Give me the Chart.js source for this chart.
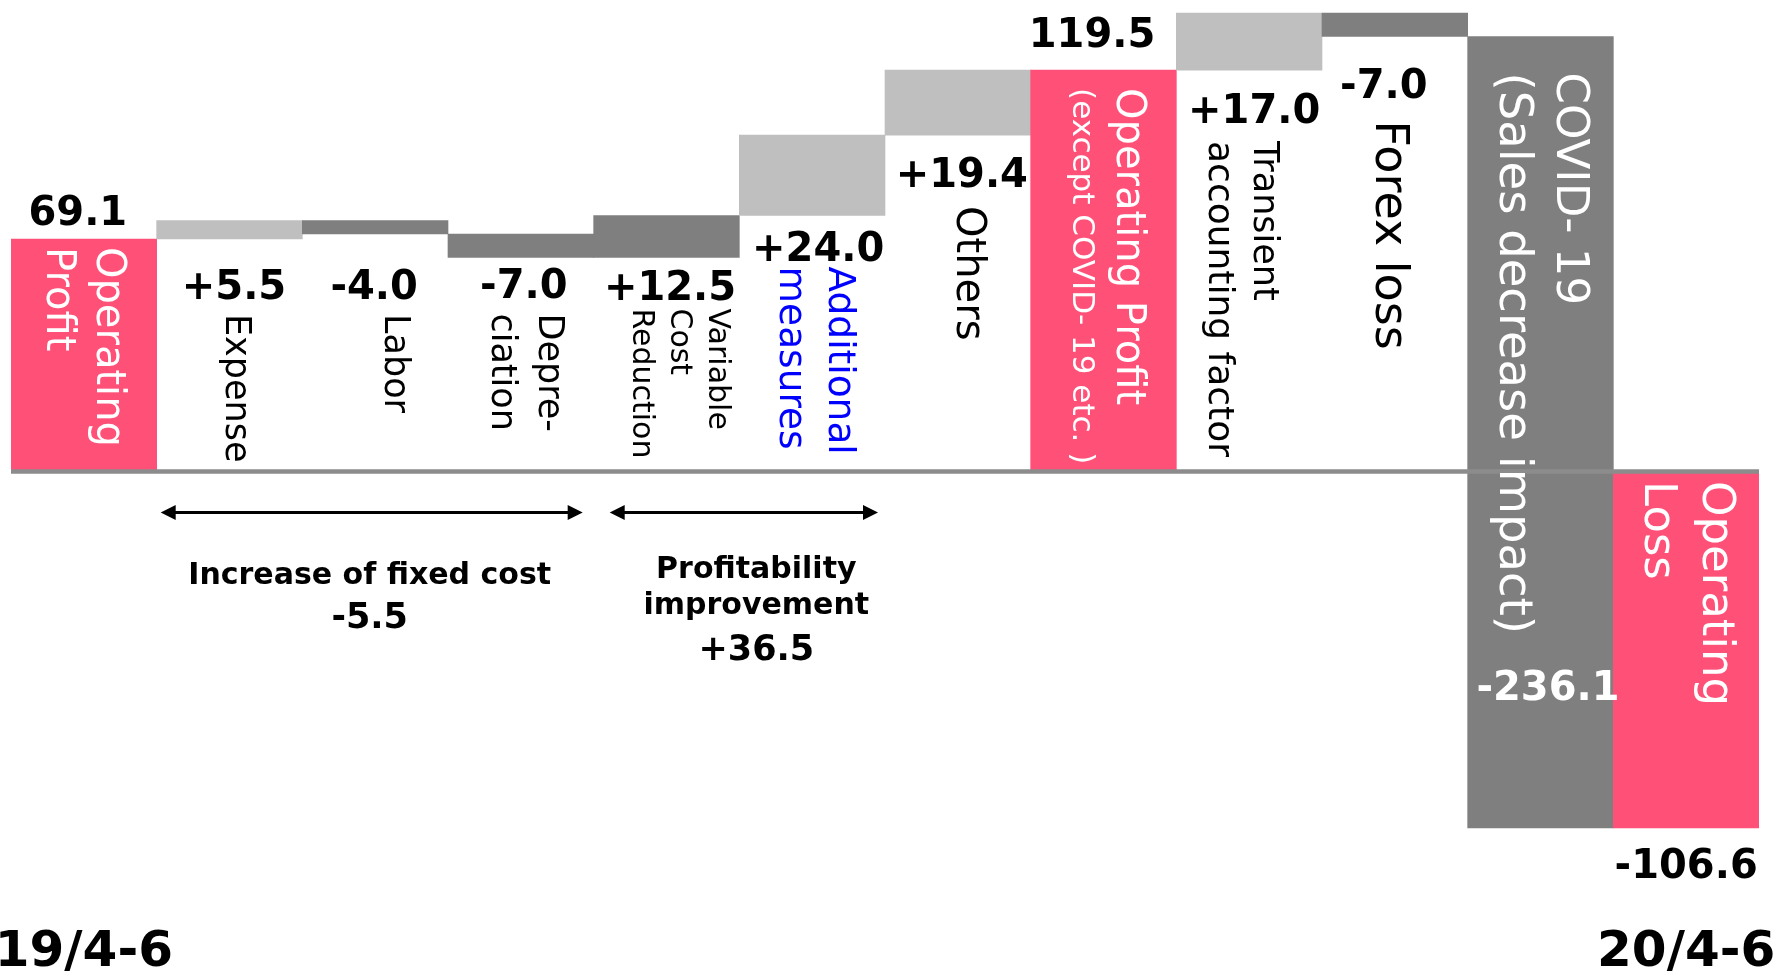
<!DOCTYPE html>
<html>
<head>
<meta charset="utf-8">
<script src="https://cdn.jsdelivr.net/npm/chart.js@4/dist/chart.umd.min.js"></script>
<style>
	html, body { margin: 0; padding: 0; background: #fff; }
	canvas { display: block; }
</style>
</head>
<body>
<canvas id="bridge" width="1783" height="974"></canvas>
<script>
// --- data ---
const categories = ["Operating Profit", "Expense", "Labor", "Depreciation", "Variable Cost Reduction",
	"Additional measures", "Others", "Operating Profit (except COVID-19 etc.)", "Transient accounting factor",
	"Forex loss", "COVID-19 (Sales decrease impact)", "Operating Loss"];
const deltas = [69.1, 5.5, -4.0, -7.0, 12.5, 24.0, 19.4, 119.5, 17.0, -7.0, -236.1, -106.6];
const isTotal = [true, false, false, false, false, false, false, true, false, false, false, true];
const periodLabels = ["19/4-6", "", "", "", "", "", "", "", "", "", "", "20/4-6"];
const nameLines = [
	["Operating", "Profit"],
	["Expense"],
	["Labor"],
	["Depre-", "ciation"],
	["Variable", "Cost", "Reduction"],
	["Additional", "measures"],
	["Others"],
	["Operating Profit", "(except COVID- 19 etc. )"],
	["Transient", "accounting factor"],
	["Forex loss"],
	["COVID- 19", "(Sales decrease impact)"],
	["Operating", "Loss"]
];
const groupNames = [["Increase of fixed cost"], ["Profitability", "improvement"]];
const groupTotals = [-5.5, 36.5];
const groupSpans = [[1, 3], [4, 5]];

// --- styles ---
const FONT = '"DejaVu Sans"';
const PINK = '#FF5078', LIGHT = '#BFBFBF', DARK = '#7F7F7F';
const barColors = [PINK, LIGHT, DARK, DARK, DARK, LIGHT, LIGHT, PINK, LIGHT, DARK, DARK, PINK];

// value label: [dx, anchor, dy, color]
const valuePos = [
	[-6, 'top', -14], [4.5, 'bottom', 60], [-1, 'bottom', 65], [3, 'bottom', 41],
	[3.5, 'bottom', 43], [6, 'bottom', 45], [4, 'bottom', 52], [-11.5, 'top', -23],
	[5, 'bottom', 53], [-11, 'bottom', 61], [7.5, 'bottom', -128, '#fff'], [0, 'bottom', 50]
];
// rotated name labels
const nameStyle = [
	{from: 'top', gap: 8, dx: 13, size: [40, 40], lh: 50, color: '#fff'},
	{from: 'value', gap: 15, dx: -4, size: [35], lh: 0, color: '#000'},
	{from: 'value', gap: 15, dx: 9.5, size: [35], lh: 0, color: '#000'},
	{from: 'value', gap: 15, dx: 18.5, size: [35, 35], lh: 47, color: '#000'},
	{from: 'value', gap: 8, dx: 42, size: [30, 30, 30], lh: 38, color: '#000'},
	{from: 'value', gap: 6, dx: 16.5, size: [37.5, 37.5], lh: 48.5, color: '#0000FF'},
	{from: 'value', gap: 19, dx: -0.5, size: [40], lh: 0, color: '#000'},
	{from: 'top', gap: 18, dx: 13.5, size: [40, 31], lh: 44, color: '#fff'},
	{from: 'value', gap: 18, dx: 5, size: [35, 36], lh: 45, color: '#000'},
	{from: 'value', gap: 23, dx: -19, size: [46], lh: 0, color: '#000'},
	{from: 'top', gap: 36, dx: 16, size: [45, 46.5], lh: 57, color: '#fff'},
	{from: 'top', gap: 10.5, dx: 17, size: [45, 45], lh: 58, color: '#fff'}
];
const groupStyle = [
	{insetL: 4, insetR: 11, textDx: -2, lineY: [113.5], totalY: 157},
	{insetL: 16, insetR: 7, textDx: 12.5, lineY: [107, 143], totalY: 189}
];

// floating bars for the waterfall
let running = 0;
const floating = deltas.map((d, i) => {
	if (isTotal[i]) { running = d; return [0, d]; }
	const from = running;
	running += d;
	return [from, running];
});

function valueText(i) {
	const v = deltas[i];
	const s = Math.abs(v).toFixed(1);
	if (v < 0) return '-' + s;
	return isTotal[i] ? s : '+' + s;
}

function drawArrow(ctx, x1, x2, y) {
	const head = 15, half = 7.5;
	ctx.strokeStyle = '#000';
	ctx.lineWidth = 3;
	ctx.beginPath();
	ctx.moveTo(x1 + head - 2, y);
	ctx.lineTo(x2 - head + 2, y);
	ctx.stroke();
	ctx.fillStyle = '#000';
	ctx.beginPath();
	ctx.moveTo(x1, y); ctx.lineTo(x1 + head, y - half); ctx.lineTo(x1 + head, y + half); ctx.closePath();
	ctx.fill();
	ctx.beginPath();
	ctx.moveTo(x2, y); ctx.lineTo(x2 - head, y - half); ctx.lineTo(x2 - head, y + half); ctx.closePath();
	ctx.fill();
}

const annotate = {
	id: 'annotate',
	afterDatasetsDraw(chart) {
		const {ctx, chartArea, scales: {y}} = chart;
		const bars = chart.getDatasetMeta(0).data;
		const zero = y.getPixelForValue(0);
		ctx.save();

		// zero line over the bars
		ctx.strokeStyle = '#8C8C8C';
		ctx.lineWidth = 4.5;
		ctx.beginPath();
		ctx.moveTo(chartArea.left, zero + 1);
		ctx.lineTo(chartArea.right, zero + 1);
		ctx.stroke();

		bars.forEach((bar, i) => {
			const top = Math.min(bar.y, bar.base);
			const bottom = Math.max(bar.y, bar.base);
			const vp = valuePos[i];
			const vy = (vp[1] === 'top' ? top : bottom) + vp[2];
			ctx.font = 'bold 40px ' + FONT;
			ctx.fillStyle = vp[3] || '#000';
			ctx.textAlign = 'center';
			ctx.textBaseline = 'alphabetic';
			ctx.fillText(valueText(i), bar.x + vp[0], vy);

			const ns = nameStyle[i];
			const start = (ns.from === 'top' ? top : vy) + ns.gap;
			ctx.save();
			ctx.translate(bar.x + ns.dx, start);
			ctx.rotate(Math.PI / 2);
			ctx.textAlign = 'left';
			ctx.fillStyle = ns.color;
			nameLines[i].forEach((line, k) => {
				ctx.font = ns.size[k] + 'px ' + FONT;
				ctx.fillText(line, 0, k * ns.lh);
			});
			ctx.restore();
		});

		// group brackets below the axis
		groupSpans.forEach((span, g) => {
			const gs = groupStyle[g];
			const a = bars[span[0]], b = bars[span[1]];
			const x1 = a.x - a.width / 2 + gs.insetL;
			const x2 = b.x + b.width / 2 - gs.insetR;
			drawArrow(ctx, x1, x2, zero + 42);
			const cx = (x1 + x2) / 2 + gs.textDx;
			ctx.fillStyle = '#000';
			ctx.textAlign = 'center';
			ctx.font = 'bold 30px ' + FONT;
			groupNames[g].forEach((line, k) => ctx.fillText(line, cx, zero + gs.lineY[k]));
			ctx.font = 'bold 35px ' + FONT;
			const t = groupTotals[g];
			ctx.fillText((t > 0 ? '+' : '') + t.toFixed(1), cx, zero + gs.totalY);
		});
		ctx.restore();
	}
};

new Chart(document.getElementById('bridge'), {
	type: 'bar',
	data: {
		labels: categories,
		datasets: [{
			data: floating,
			backgroundColor: barColors,
			borderWidth: 0,
			barPercentage: 1,
			categoryPercentage: 1
		}]
	},
	options: {
		responsive: false,
		animation: false,
		devicePixelRatio: 1,
		layout: {padding: {left: 11, right: 24, top: 0, bottom: 0}, autoPadding: false},
		plugins: {legend: {display: false}, tooltip: {enabled: false}},
		scales: {
			x: {
				grid: {display: false, drawTicks: false},
				border: {display: false},
				ticks: {
					autoSkip: false,
					maxRotation: 0,
					padding: 23,
					color: '#000',
					font: {family: 'DejaVu Sans', size: 50, weight: 'bold'},
					callback: (v, i) => periodLabels[i]
				},
				afterFit: s => {
					// the period labels may hang over the edges, as in the original
					s.height = 74;
					s.paddingLeft = 0;
					s.paddingRight = 0;
				}
			},
			y: {display: false, min: -128.1, max: 140.4}
		}
	},
	plugins: [annotate]
});
</script>
</body>
</html>
